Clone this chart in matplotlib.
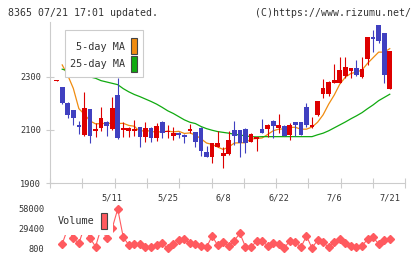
import matplotlib
matplotlib.use("Agg")
import matplotlib.pyplot as plt
from matplotlib.patches import Rectangle
from matplotlib.ticker import FixedLocator, FixedFormatter, NullFormatter
import numpy as np

# ---------------- data ----------------
opens = [2285, 2262, 2203, 2175, 2120, 2081, 2178, 2098, 2108, 2131,
         2102, 2232, 2099, 2098, 2095, 2112, 2075, 2109, 2069, 2131,
         2091, 2076, 2090, 2082, 2098, 2091, 2109, 2019, 1998, 2037,
         2004, 2010, 2100, 2100, 2104, 2056, 2065, 2103, 2103, 2135,
         2106, 2115, 2081, 2130, 2130, 2186, 2110, 2158, 2235, 2235,
         2278, 2278, 2303, 2322, 2334, 2298, 2366, 2448, 2494, 2462,
         2254]
highs = [2286, 2263, 2204, 2176, 2134, 2244, 2180, 2125, 2188, 2134,
         2222, 2294, 2129, 2110, 2137, 2113, 2131, 2110, 2125, 2132,
         2119, 2110, 2092, 2084, 2122, 2092, 2110, 2040, 2052, 2098,
         2037, 2095, 2135, 2101, 2106, 2088, 2075, 2141, 2122, 2136,
         2160, 2118, 2125, 2131, 2131, 2202, 2149, 2208, 2290, 2283,
         2346, 2375, 2375, 2333, 2362, 2375, 2450, 2475, 2495, 2463,
         2397]
lows = [2284, 2198, 2144, 2119, 2086, 2078, 2052, 2075, 2097, 2076,
        2100, 2067, 2075, 2073, 2079, 2037, 2056, 2056, 2059, 2069,
        2069, 2063, 2069, 2050, 2088, 2037, 2003, 1998, 1975, 2035,
        1956, 2008, 2044, 2000, 2015, 2054, 2022, 2089, 2075, 2069,
        2088, 2076, 2063, 2076, 2080, 2112, 2108, 2152, 2219, 2229,
        2277, 2276, 2296, 2294, 2304, 2294, 2344, 2394, 2425, 2278,
        2253]
closes = [2285, 2203, 2156, 2144, 2113, 2181, 2076, 2104, 2146, 2116,
          2183, 2070, 2108, 2108, 2103, 2075, 2109, 2069, 2116, 2090,
          2098, 2090, 2082, 2073, 2104, 2056, 2022, 2000, 2050, 2050,
          2015, 2063, 2079, 2053, 2050, 2085, 2073, 2090, 2119, 2116,
          2119, 2078, 2119, 2120, 2081, 2119, 2119, 2207, 2258, 2281,
          2288, 2325, 2335, 2331, 2306, 2328, 2448, 2441, 2435, 2306,
          2396]
ma5 = [None, 2344, 2305, 2256, 2180, 2159, 2134, 2123, 2124, 2125,
       2125, 2124, 2125, 2117, 2114, 2093, 2101, 2093, 2094, 2092,
       2096, 2093, 2095, 2087, 2089, 2081, 2067, 2051, 2046, 2036,
       2027, 2036, 2051, 2052, 2052, 2066, 2068, 2070, 2083, 2097,
       2103, 2104, 2110, 2110, 2103, 2103, 2111, 2129, 2157, 2197,
       2231, 2272, 2298, 2312, 2317, 2325, 2350, 2371, 2392, 2392,
       2405]
ma25 = [None, 2328, 2322, 2316, 2310, 2304, 2299, 2294, 2285, 2280,
        2275, 2270, 2255, 2243, 2233, 2225, 2216, 2207, 2197, 2185,
        2172, 2162, 2150, 2138, 2129, 2124, 2113, 2105, 2099, 2094,
        2091, 2088, 2084, 2081, 2078, 2075, 2074, 2075, 2075, 2075,
        2075, 2075, 2075, 2075, 2075, 2075, 2075, 2082, 2088, 2097,
        2108, 2119, 2130, 2142, 2153, 2165, 2180, 2194, 2210, 2222,
        2234]
volume = [None, 7100, 30000, 15400, 8100, 32000, 16000, 3100, 30000, 15400,
          30000, 58000, 16800, 5600, 7100, 7100, 2300, 3100, 5200, 8100,
          800, 7100, 12900, 14000, 8100, 7100, 4200, 2300, 18700, 5200,
          10400, 4200, 11900, 22700, 3100, 2300, 11100, 11900, 4200, 8100,
          7100, 1000, 11900, 9600, 2300, 18700, 900, 12900, 9600, 2300,
          9600, 14000, 8100, 4200, 3100, 4200, 14000, 16800, 7100, 12900,
          14000]
date_labels = ["5/11", "5/25", "6/8", "6/22", "7/6", "7/21"]
date_label_idx = [10, 20, 30, 40, 50, 60]
price_ticks = [1900, 2100, 2300]
vol_ticks = [800, 29400, 58000]
ma_labels = ["5-day MA", "25-day MA"]
vol_label = "Volume"

# ---------------- style ----------------
RED = "#dd0000"
BLUE = "#4040c0"
ORANGE = "#f08c10"
GREEN = "#10aa10"
VOLC = "#ff5a5f"
GRID = "#cccccc"
TXT = "#333333"
EDGE = "#444444"
MONO = "DejaVu Sans Mono"
W, H = 420, 259

fig = plt.figure(figsize=(4.2, 2.59), dpi=100)
ax = fig.add_axes([50 / W, 1 - 183.3 / H, 355.3 / W, 161.3 / H])
vax = fig.add_axes([50 / W, 1 - 252 / H, 355.3 / W, 47 / H])


def fx(p):
    return p / W


def fy(p):
    return 1 - p / H


def box(x0, y0, x1, y1, **kw):
    r = Rectangle((fx(x0), fy(y1)), fx(x1) - fx(x0), fy(y0) - fy(y1),
                  transform=fig.transFigure, **kw)
    fig.add_artist(r)
    return r


n = len(closes)
x = np.arange(n)
xlo, xhi = -1.2, 62.8

# candles
o = np.array(opens, float)
c = np.array(closes, float)
hh = np.array(highs, float)
ll = np.array(lows, float)
up = c >= o
cols = [RED if u else BLUE for u in up]
ax.vlines(x, ll, hh, colors=cols, linewidth=0.8, zorder=3)
body_h = np.maximum(np.abs(c - o), 3.5)
ax.bar(x, body_h, bottom=np.minimum(o, c), width=0.85, color=cols,
       linewidth=0, zorder=4)

# moving averages
m5 = np.array([np.nan if v is None else v for v in ma5], float)
m25 = np.array([np.nan if v is None else v for v in ma25], float)
ax.plot(x, m5, color=ORANGE, lw=0.9, zorder=2, label=ma_labels[0])
ax.plot(x, m25, color=GREEN, lw=0.9, zorder=2, label=ma_labels[1])

ax.set_xlim(xlo, xhi)
ax.set_ylim(1900, 2505)
for s in ["top", "right"]:
    ax.spines[s].set_visible(False)
for s in ["left", "bottom"]:
    ax.spines[s].set_color(GRID)
    ax.spines[s].set_linewidth(0.8)

ax.xaxis.set_major_locator(FixedLocator(np.linspace(xlo, xhi, 12)))
ax.xaxis.set_major_formatter(NullFormatter())
ax.xaxis.set_minor_locator(FixedLocator(date_label_idx))
ax.xaxis.set_minor_formatter(FixedFormatter(date_labels))
ax.tick_params(axis="x", which="major", direction="inout", length=7,
               width=0.8, color=GRID)
ax.tick_params(axis="x", which="minor", length=0, pad=7.5,
               labelsize=6.2, labelcolor=TXT)
ax.set_yticks(price_ticks)
ax.set_yticklabels([str(t) for t in price_ticks])
ax.tick_params(axis="y", direction="inout", length=6, width=0.8,
               color=GRID, labelsize=6.2, labelcolor=TXT, pad=3.5)
for lab in ax.get_xticklabels(minor=True) + ax.get_yticklabels():
    lab.set_family(MONO)

# MA legend (drawn as a framed key box)
box(65, 30, 143.3, 77.3, facecolor="white", edgecolor=GRID, lw=0.8, zorder=10)
box(131, 38, 137, 54, facecolor=ORANGE, edgecolor=EDGE, lw=0.8, zorder=11)
box(131, 56, 137, 72, facecolor=GREEN, edgecolor=EDGE, lw=0.8, zorder=11)
fig.text(fx(125.5), fy(46.5), ma_labels[0], ha="right", va="center",
         family=MONO, size=7.3, color=TXT, zorder=12)
fig.text(fx(125.5), fy(64), ma_labels[1], ha="right", va="center",
         family=MONO, size=7.3, color=TXT, zorder=12)

# volume
vol = np.array([np.nan if v is None else v for v in volume], float)
vax.plot(x, vol, color=VOLC, lw=0.8, marker="D", ms=3.6, mec=VOLC,
         mfc=VOLC, zorder=2, label=vol_label)
vax.set_xlim(xlo, xhi)
vax.set_ylim(-4600, 63800)
for s in vax.spines.values():
    s.set_visible(False)
vax.set_xticks([])
vax.set_yticks(vol_ticks)
vax.set_yticklabels([str(t) for t in vol_ticks])
vax.tick_params(axis="y", length=0, labelsize=6.2, labelcolor=TXT, pad=4)
for lab in vax.get_yticklabels():
    lab.set_family(MONO)

box(54, 207, 112.5, 235, facecolor="white", edgecolor="none", zorder=10)
box(101, 213, 107, 229, facecolor=VOLC, edgecolor=EDGE, lw=0.8, zorder=11)
fig.text(fx(58), fy(221.5), vol_label, ha="left", va="center",
         family=MONO, size=7.3, color=TXT, zorder=12)

fig.text(fx(8), fy(12.5), "8365 07/21 17:01 updated.", ha="left",
         va="center", family=MONO, size=7.1, color=TXT)
fig.text(fx(255), fy(12.5), "(C)https://www.rizumu.net/", ha="left",
         va="center", family=MONO, size=7.1, color=TXT)

fig.savefig("out.png", dpi=100)
